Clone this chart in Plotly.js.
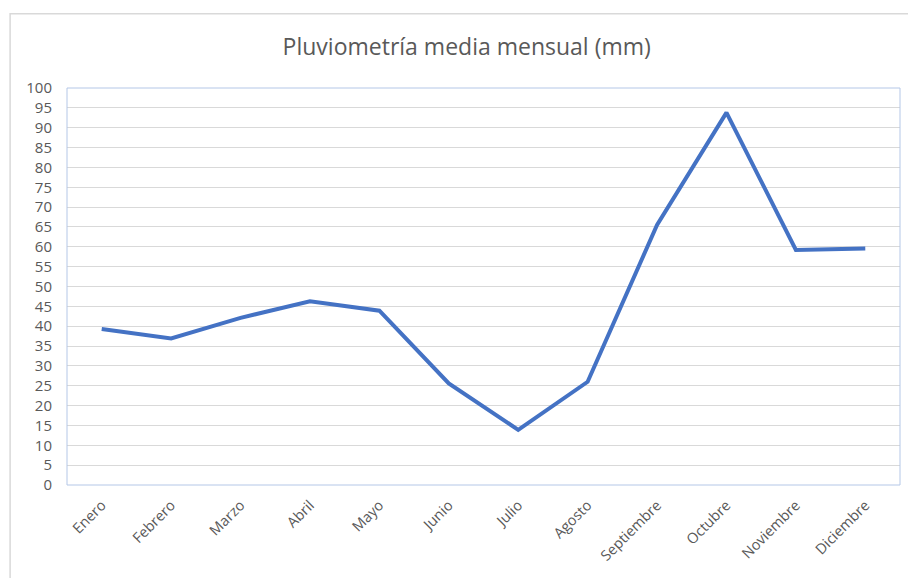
<!DOCTYPE html>
<html>
<head>
<meta charset="utf-8">
<script src="https://cdn.plot.ly/plotly-3.0.1.min.js"></script>
<style>html,body{margin:0;padding:0;background:#fff;}#chart{width:908px;height:578px;}</style>
</head>
<body>
<div id="chart"></div>
<script>
const months = ["Enero","Febrero","Marzo","Abril","Mayo","Junio","Julio","Agosto","Septiembre","Octubre","Noviembre","Diciembre"];
const rainfall = [39.3, 36.9, 42.1, 46.3, 43.9, 25.6, 13.9, 26.0, 65.5, 93.8, 59.2, 59.6];
const yTicks = [0,5,10,15,20,25,30,35,40,45,50,55,60,65,70,75,80,85,90,95,100];
const chartTitle = "Pluviometría media mensual (mm)";

const fontFam = "'Open Sans', 'Liberation Sans', sans-serif";
const trace = {
  x: months,
  y: rainfall,
  type: 'scatter',
  mode: 'lines',
  line: {color: '#4472C4', width: 4},
  hoverinfo: 'x+y'
};
const layout = {
  width: 908, height: 578,
  margin: {l: 67, r: 8, t: 88, b: 93},
  paper_bgcolor: '#ffffff', plot_bgcolor: '#ffffff',
  showlegend: false,
  title: {text: chartTitle, x: 0.514, xanchor: 'center', y: 0.918, yanchor: 'middle',
          font: {family: fontFam, size: 23, color: '#595959'}},
  xaxis: {
    type: 'category',
    tickangle: -45,
    showgrid: false, zeroline: false, showline: false,
    ticks: '', ticklabelstandoff: 8,
    tickfont: {family: fontFam, size: 14.5, color: '#595959'},
    range: [-0.5, 11.5]
  },
  yaxis: {
    range: [0, 100],
    tickvals: yTicks,
    ticktext: yTicks.map(String),
    showgrid: true, gridcolor: '#d9d9d9', gridwidth: 1,
    zeroline: false, showline: false,
    ticks: '', ticklabelstandoff: 14,
    tickfont: {family: fontFam, size: 15, color: '#595959'}
  },
  shapes: [
    {type: 'rect', xref: 'paper', yref: 'paper', x0: 0, x1: 1, y0: 0, y1: 1,
     line: {color: '#b4c7e7', width: 1}, fillcolor: 'rgba(0,0,0,0)', layer: 'above'},
    {type: 'rect', xref: 'paper', yref: 'paper', x0: -0.0683, x1: 1.2, y0: -0.5, y1: 1.187,
     line: {color: '#d9d9d9', width: 1.5}, fillcolor: 'rgba(0,0,0,0)', layer: 'below'}
  ]
};
Plotly.newPlot('chart', [trace], layout, {displayModeBar: false, staticPlot: true});
</script>
</body>
</html>
